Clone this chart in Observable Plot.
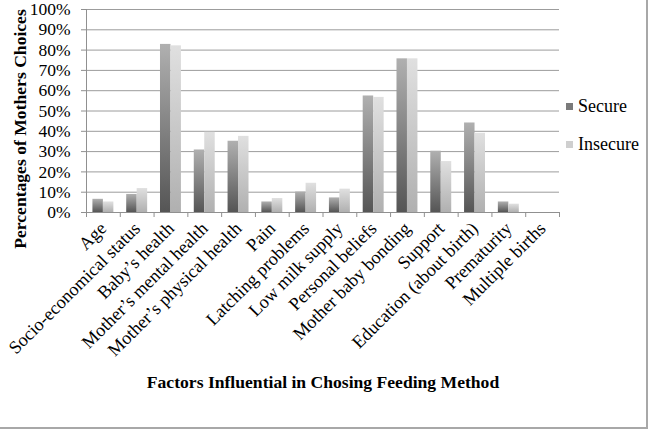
<!DOCTYPE html>
<html>
<head>
<meta charset="utf-8">
<script src="https://cdn.jsdelivr.net/npm/d3@7"></script>
<script src="https://cdn.jsdelivr.net/npm/@observablehq/plot@0.6"></script>
<style>
  html, body { margin: 0; padding: 0; background: #fff; }
  #wrap { position: relative; width: 648px; height: 434px; overflow: hidden; font-family: "Liberation Serif", "Times New Roman", serif; }
  #border { position: absolute; left: 0; top: 0; width: 646px; height: 427px; border-right: 2px solid #a8a8a8; border-bottom: 2px solid #a8a8a8; box-sizing: content-box; pointer-events: none; }
  .leg { position: absolute; left: 566px; font-size: 18px; color: #000; line-height: 18px; white-space: nowrap; }
  .sw { display: inline-block; width: 7px; height: 7px; margin-right: 5px; vertical-align: 2px; }
</style>
</head>
<body>
<div id="wrap"><div id="border"></div></div>
<script>
const categories = ["Age", "Socio-economical status", "Baby\u2019s health", "Mother\u2019s mental health",
  "Mother\u2019s physical health", "Pain", "Latching problems", "Low milk supply", "Personal beliefs",
  "Mother baby bonding", "Support", "Education (about birth)", "Prematurity", "Multiple births"];
const secure   = [6.5, 8.9, 82.8, 30.8, 35.1, 5.2, 10.1, 7.2, 57.4, 75.7, 30.2, 44.1, 5.2, 0];
const insecure = [5.2, 11.8, 82.1, 39.5, 37.5, 6.9, 14.4, 11.5, 56.7, 75.7, 25.1, 39.0, 4.1, 0];
const seriesNames = ["Secure", "Insecure"];
const yTicks = [0, 10, 20, 30, 40, 50, 60, 70, 80, 90, 100];

const rows = categories.map((c, i) => ({i, category: c, secure: secure[i], insecure: insecure[i]}));
const barFrac = 0.31;
const FONT = "Liberation Serif, Times New Roman, serif";

const chart = Plot.plot({
  width: 648,
  height: 434,
  marginLeft: 86,
  marginRight: 89,
  marginTop: 9,
  marginBottom: 222,
  style: {fontFamily: FONT, fontSize: "17.5px", color: "#000", background: "transparent", overflow: "visible"},
  x: {domain: [0, categories.length]},
  y: {domain: [0, 100]},
  marks: [
    Plot.gridY(yTicks, {stroke: "#9c9c9c", strokeOpacity: 1}),
    Plot.rectY(rows, {x1: d => d.i + 0.5 - barFrac, x2: d => d.i + 0.5, y: "secure", fill: "url(#gSecure)"}),
    Plot.rectY(rows, {x1: d => d.i + 0.5, x2: d => d.i + 0.5 + barFrac, y: "insecure", fill: "url(#gInsecure)"}),
    Plot.ruleX([0], {stroke: "#909090"}),
    Plot.ruleY([0], {stroke: "#909090"}),
    Plot.axisY({ticks: yTicks, tickFormat: d => d + "%", tickSize: 5, tickPadding: 11, stroke: "#909090", label: null, fontSize: 17.5}),
    Plot.axisX({ticks: d3.range(categories.length + 1), tickFormat: () => "", tickSize: 5, stroke: "#909090", label: null}),
    Plot.axisX({ticks: d3.range(categories.length).map(i => i + 0.5), tickFormat: t => categories[Math.floor(t)],
      tickSize: 0, tickPadding: 13, tickRotate: -45, label: null, fontSize: 18.2}),
    Plot.text(["Percentages of Mothers Choices"], {frameAnchor: "left", textAnchor: "middle", rotate: -90, dx: -66, dy: 18, fontWeight: "bold", fontSize: 17.6}),
    Plot.text(["Factors Influential in Chosing Feeding Method"], {frameAnchor: "bottom", textAnchor: "middle", dy: 175, fontWeight: "bold", fontSize: 17.6})
  ]
});

const defs = d3.select(chart).insert("defs", ":first-child");
function grad(id, top, bottom) {
  const g = defs.append("linearGradient").attr("id", id).attr("x1", 0).attr("y1", 0).attr("x2", 0).attr("y2", 1);
  g.append("stop").attr("offset", "0%").attr("stop-color", top);
  g.append("stop").attr("offset", "100%").attr("stop-color", bottom);
}
grad("gSecure", "#b0b0b0", "#555555");
grad("gInsecure", "#e0e0e0", "#b0b0b0");

const wrap = document.getElementById("wrap");
wrap.insertBefore(chart, wrap.firstChild);
chart.style.position = "absolute";
chart.style.left = "0px";
chart.style.top = "0px";

const swatch = ["#7a7a7a", "#cfcfcf"];
const legTops = [97, 135];
seriesNames.forEach((name, k) => {
  const el = document.createElement("div");
  el.className = "leg";
  el.style.top = legTops[k] + "px";
  el.innerHTML = `<span class="sw" style="background:${swatch[k]}"></span>${name}`;
  wrap.appendChild(el);
});
</script>
</body>
</html>
